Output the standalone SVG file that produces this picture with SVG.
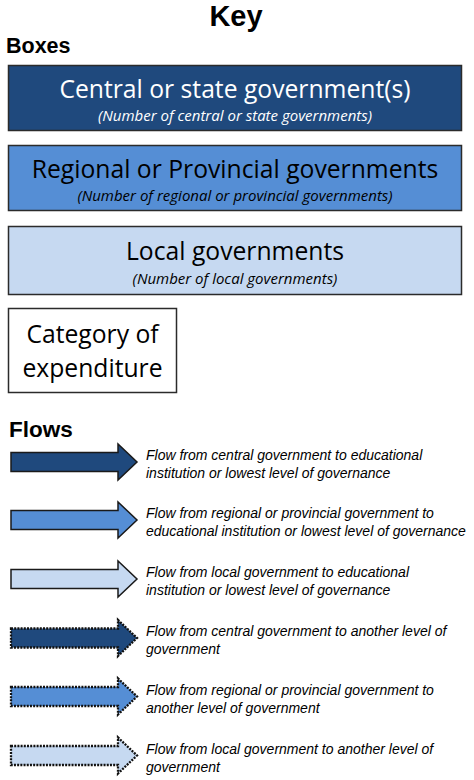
<svg xmlns="http://www.w3.org/2000/svg" width="474" height="780" viewBox="0 0 474 780">
<style>
.h{font-family:"Liberation Sans",Arial,sans-serif;font-weight:bold;fill:#000}
.bt{font-family:"Open Sans","Noto Sans",sans-serif;font-size:24.7px;text-anchor:middle}
.bs{font-family:"Open Sans","Noto Sans",sans-serif;font-size:15px;font-style:italic;text-anchor:middle}
.ft{font-family:"Liberation Sans",Arial,sans-serif;font-size:14px;font-style:italic;fill:#000}
.box{stroke:#2b2b2b;stroke-width:1.5}
.arr{stroke:#1a1a1a;stroke-width:1.5;stroke-linejoin:miter}
.dot{stroke:#111;stroke-width:2.3;stroke-dasharray:2 1.2;stroke-linejoin:miter}
.c1{fill:#1f497d}.c2{fill:#558ed5}.c3{fill:#c6d9f1}
</style>
<defs>
<path id="ar" d="M11,-9.5 H118 V-18 L137,0 L118,18 V9.5 H11 Z"/>
</defs>
<text class="h" x="236" y="26" font-size="29" text-anchor="middle">Key</text>
<text class="h" x="6" y="53" font-size="21.5">Boxes</text>
<g id="central">
<rect class="box c1" x="8.5" y="65.5" width="453" height="65"/>
<text class="bt" x="235" y="98" fill="#fff">Central or state government(s)</text>
<text class="bs" x="235" y="120.5" fill="#fff">(Number of central or state governments)</text>
</g>
<g id="regional">
<rect class="box c2" x="8.5" y="145.5" width="453" height="65"/>
<text class="bt" x="235" y="177.5" fill="#000">Regional or Provincial governments</text>
<text class="bs" x="235" y="200.5" fill="#000">(Number of regional or provincial governments)</text>
</g>
<g id="local">
<rect class="box c3" x="8.5" y="226.5" width="453" height="68"/>
<text class="bt" x="235" y="260" fill="#000">Local governments</text>
<text class="bs" x="235" y="283.5" fill="#000">(Number of local governments)</text>
</g>
<g id="category">
<rect class="box" x="8.5" y="308.5" width="168" height="84" fill="#fff"/>
<text class="bt" x="92.5" y="343" fill="#000">Category of</text>
<text class="bt" x="92.5" y="377" fill="#000">expenditure</text>
</g>
<text class="h" x="9" y="437" font-size="22.5">Flows</text>
<g id="connectors">
<use href="#ar" class="arr c1" transform="translate(0,462)"/>
<use href="#ar" class="arr c2" transform="translate(0,520)"/>
<use href="#ar" class="arr c3" transform="translate(0,579)"/>
<use href="#ar" class="dot c1" transform="translate(0,638)"/>
<use href="#ar" class="dot c2" transform="translate(0,696.5)"/>
<use href="#ar" class="dot c3" transform="translate(0,755.5)"/>
</g>
<g id="flow-labels">
<text class="ft" x="146" y="459.5">Flow from central government to educational</text>
<text class="ft" x="146" y="477.5">institution or lowest level of governance</text>
<text class="ft" x="146" y="518">Flow from regional or provincial government to</text>
<text class="ft" x="146" y="536">educational institution or lowest level of governance</text>
<text class="ft" x="146" y="576.5">Flow from local government to educational</text>
<text class="ft" x="146" y="594.5">institution or lowest level of governance</text>
<text class="ft" x="146" y="635.5">Flow from central government to another level of</text>
<text class="ft" x="146" y="653.5">government</text>
<text class="ft" x="146" y="694.5">Flow from regional or provincial government to</text>
<text class="ft" x="146" y="712.5">another level of government</text>
<text class="ft" x="146" y="753.5">Flow from local government to another level of</text>
<text class="ft" x="146" y="771.5">government</text>
</g>
</svg>
